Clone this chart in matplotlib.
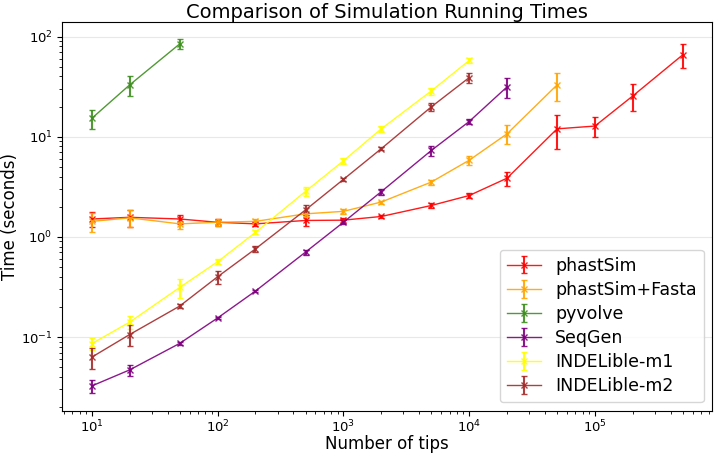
import numpy as np
import matplotlib
matplotlib.use("Agg")
import matplotlib.pyplot as plt

# tips counts
x_phast = [10, 20, 50, 100, 200, 500, 1000, 2000, 5000, 10000, 20000, 50000, 100000, 200000, 500000]
x_fasta = x_phast[:12]
x_pyvolve = [10, 20, 50]
x_seqgen = x_phast[:11]
x_indel = x_phast[:10]

# mean running times (seconds)
t_phast = [1.51, 1.57, 1.51, 1.40, 1.35, 1.46, 1.47, 1.60, 2.06, 2.59, 3.86, 12.0, 12.8, 25.6, 66.0]
t_fasta = [1.43, 1.55, 1.35, 1.40, 1.43, 1.70, 1.80, 2.23, 3.53, 5.83, 10.7, 33.0]
t_pyvolve = [15.3, 33.0, 84.7]
t_seqgen = [0.0325, 0.047, 0.0865, 0.155, 0.288, 0.705, 1.40, 2.83, 7.3, 14.2, 31.5]
t_indel1 = [0.086, 0.141, 0.313, 0.565, 1.11, 2.85, 5.75, 12.0, 28.7, 57.8]
t_indel2 = [0.063, 0.106, 0.204, 0.40, 0.76, 1.86, 3.75, 7.6, 19.9, 39.0]

# standard deviations
e_phast = [0.25, 0.3, 0.15, 0.1, 0.06, 0.18, 0.08, 0.06, 0.1, 0.15, 0.62, 4.5, 2.8, 7.7, 17.7]
e_fasta = [0.3, 0.3, 0.15, 0.1, 0.08, 0.12, 0.1, 0.08, 0.2, 0.6, 2.3, 10.0]
e_pyvolve = [3.4, 7.7, 9.0]
e_seqgen = [0.005, 0.006, 0.003, 0.005, 0.008, 0.04, 0.06, 0.2, 0.8, 0.8, 7.2]
e_indel1 = [0.012, 0.02, 0.068, 0.03, 0.05, 0.3, 0.4, 0.8, 2.3, 3.0]
e_indel2 = [0.015, 0.025, 0.01, 0.06, 0.05, 0.2, 0.15, 0.3, 2.0, 4.2]

labels = ["phastSim", "phastSim+Fasta", "pyvolve", "SeqGen", "INDELible-m1", "INDELible-m2"]
colors = ["red", "orange", "#3e8e1f", "purple", "yellow", "brown"]
xs = [x_phast, x_fasta, x_pyvolve, x_seqgen, x_indel, x_indel]
ts = [t_phast, t_fasta, t_pyvolve, t_seqgen, t_indel1, t_indel2]
es = [e_phast, e_fasta, e_pyvolve, e_seqgen, e_indel1, e_indel2]

fig, ax = plt.subplots(figsize=(7.16, 4.54), dpi=100)

for x, t, e, c, lab in zip(xs, ts, es, colors, labels):
    ax.errorbar(x, t, yerr=e, color=c, marker="x", markersize=4, linewidth=1,
                elinewidth=1.5, capsize=2, ecolor=c, alpha=0.9, label=lab)

ax.set_xscale("log")
ax.set_yscale("log")
ax.grid(axis="y", color="#e8e8e8", linewidth=0.8)
ax.set_axisbelow(True)
ax.tick_params(labelsize=9.5)
ax.tick_params(axis="x", pad=2)

ax.set_title("Comparison of Simulation Running Times", fontsize=14, pad=3)
ax.set_xlabel("Number of tips", fontsize=12, labelpad=0)
ax.set_ylabel("Time (seconds)", fontsize=12, labelpad=1)
ax.legend(loc="lower right", fontsize=12.5, labelspacing=0.35)

fig.subplots_adjust(left=0.087, right=0.995, top=0.952, bottom=0.095)
fig.savefig("out.png", dpi=100)
